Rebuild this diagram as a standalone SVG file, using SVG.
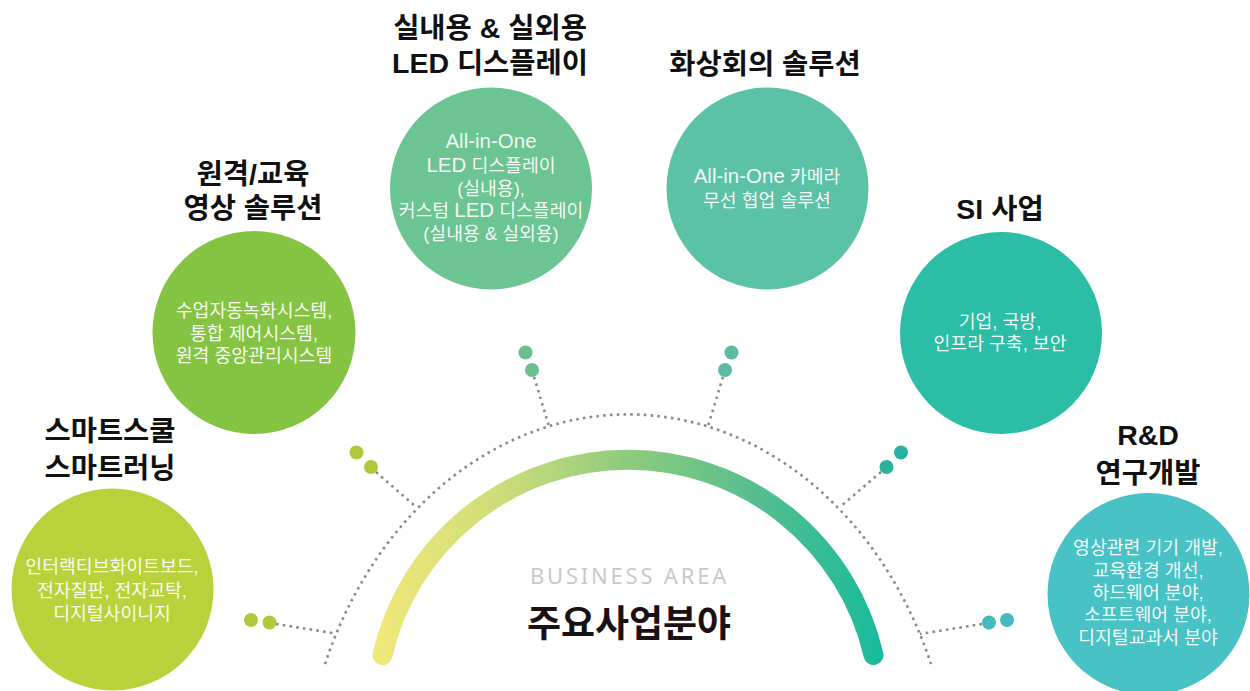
<svg xmlns="http://www.w3.org/2000/svg" width="1250" height="691" viewBox="0 0 1250 691">
<defs>
<linearGradient id="arcGrad" gradientUnits="userSpaceOnUse" x1="373" y1="0" x2="883" y2="0">
<stop offset="0" stop-color="#F2E87A"/>
<stop offset="0.25" stop-color="#CDDC79"/>
<stop offset="0.5" stop-color="#8ECB7E"/>
<stop offset="0.75" stop-color="#56BE8E"/>
<stop offset="1" stop-color="#17BB9D"/>
</linearGradient>
<style>
.title{font-family:"Liberation Sans","Noto Sans CJK KR",sans-serif;font-weight:700;font-size:28.5px;fill:#111;text-anchor:middle}
.body{font-family:"Liberation Sans","Noto Sans CJK KR",sans-serif;font-size:18.3px;fill:#fff;fill-opacity:.94;text-anchor:middle}
.lat{font-size:20.5px}
.dots{fill:none;stroke:#8a8a8a;stroke-width:2.6;stroke-dasharray:2.6 4.2}
</style>
</defs>
<rect width="1250" height="691" fill="#fff"/>

<g id="connectors">
<path class="dots" d="M325 664 A327 400 0 0 1 931 664"/>
<path class="dots" d="M276 624 L336 633.5"/>
<path class="dots" d="M376 472 L416 507"/>
<path class="dots" d="M534 377 L549 426"/>
<path class="dots" d="M723 377 L708 426"/>
<path class="dots" d="M881 472 L840 507"/>
<path class="dots" d="M982 624 L920 634"/>
<circle cx="251" cy="620" r="7" fill="#B2C93E"/>
<circle cx="269.5" cy="622.5" r="7" fill="#B2C93E"/>
<circle cx="356.5" cy="452.5" r="7" fill="#B0C83D"/>
<circle cx="371" cy="467" r="7" fill="#B0C83D"/>
<circle cx="525.5" cy="352.5" r="7" fill="#6BBF8E"/>
<circle cx="532" cy="370" r="7" fill="#6BBF8E"/>
<circle cx="731.5" cy="352.5" r="7" fill="#5CBBA2"/>
<circle cx="725" cy="370" r="7" fill="#5CBBA2"/>
<circle cx="901" cy="452.5" r="7" fill="#2BB19D"/>
<circle cx="886.5" cy="467" r="7" fill="#2BB19D"/>
<circle cx="989" cy="622.5" r="7" fill="#47B9C0"/>
<circle cx="1007" cy="620" r="7" fill="#47B9C0"/>
</g>

<g id="center">
<path d="M382.5 655 A252 252 0 0 1 873.5 655" fill="none" stroke="url(#arcGrad)" stroke-width="20" stroke-linecap="round"/>
<text x="629.5" y="584" font-family="'Noto Sans','Liberation Sans',sans-serif" font-size="22" font-weight="400" fill="#C9C9C9" text-anchor="middle" letter-spacing="2.8">BUSINESS AREA</text>
<text x="629" y="637" font-family="'Noto Sans CJK KR',sans-serif" font-size="37" font-weight="700" fill="#1C1112" text-anchor="middle">주요사업분야</text>
</g>

<g id="node-smartschool">
<circle cx="112.5" cy="589.5" r="101" fill="#B9D23B"/>
<text class="title" x="110" y="441">스마트스쿨</text>
<text class="title" x="110" y="478">스마트러닝</text>
<text class="body" x="112" y="573">인터랙티브화이트보드,</text>
<text class="body" x="112" y="596.5">전자칠판, 전자교탁,</text>
<text class="body" x="112" y="620">디지털사이니지</text>
</g>

<g id="node-remote">
<circle cx="254" cy="332.5" r="101.5" fill="#85C443"/>
<text class="title" x="253" y="184">원격/교육</text>
<text class="title" x="253" y="218">영상 솔루션</text>
<text class="body" x="254" y="316.5">수업자동녹화시스템,</text>
<text class="body" x="254" y="339.5">통합 제어시스템,</text>
<text class="body" x="254" y="361.5">원격 중앙관리시스템</text>
</g>

<g id="node-led">
<circle cx="491" cy="188.5" r="101" fill="#6CC492"/>
<text class="title" x="490" y="38">실내용 &amp; 실외용</text>
<text class="title" x="490" y="73">LED 디스플레이</text>
<text class="body" x="491" y="148"><tspan class="lat">All-in-One</tspan></text>
<text class="body" x="491" y="171.5"><tspan class="lat">LED</tspan> 디스플레이</text>
<text class="body" x="491" y="194.5">(실내용),</text>
<text class="body" x="491" y="217">커스텀 <tspan class="lat">LED</tspan> 디스플레이</text>
<text class="body" x="491" y="240">(실내용 &amp; 실외용)</text>
</g>

<g id="node-video">
<circle cx="767.5" cy="188.5" r="101" fill="#5CC2A6"/>
<text class="title" x="765" y="74">화상회의 솔루션</text>
<text class="body" x="767" y="183"><tspan class="lat">All-in-One</tspan> 카메라</text>
<text class="body" x="767" y="206.5">무선 협업 솔루션</text>
</g>

<g id="node-si">
<circle cx="1001" cy="333" r="101" fill="#2CBDA7"/>
<text class="title" x="1000" y="219">SI 사업</text>
<text class="body" x="1000" y="328">기업, 국방,</text>
<text class="body" x="1000" y="350">인프라 구축, 보안</text>
</g>

<g id="node-rnd">
<circle cx="1148.5" cy="594" r="101" fill="#48C2C5"/>
<text class="title" x="1148" y="445">R&amp;D</text>
<text class="title" x="1148" y="483">연구개발</text>
<text class="body" x="1148" y="554">영상관련 기기 개발,</text>
<text class="body" x="1148" y="577">교육환경 개선,</text>
<text class="body" x="1148" y="599">하드웨어 분야,</text>
<text class="body" x="1148" y="621">소프트웨어 분야,</text>
<text class="body" x="1148" y="644">디지털교과서 분야</text>
</g>
</svg>
